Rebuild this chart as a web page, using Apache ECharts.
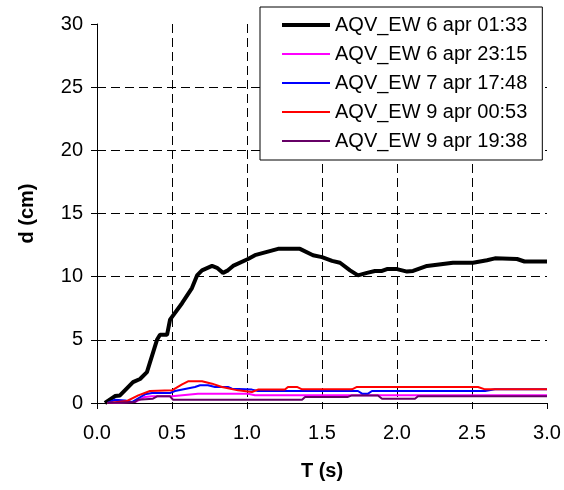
<!DOCTYPE html>
<html>
<head>
<meta charset="utf-8">
<script src="https://cdn.jsdelivr.net/npm/echarts@6/dist/echarts.min.js"></script>
<style>html,body{margin:0;padding:0;background:#fff}#c{width:564px;height:490px}</style>
</head>
<body>
<div id="c"></div>
<script>
const seriesNames = ['AQV_EW 6 apr 01:33','AQV_EW 6 apr 23:15','AQV_EW 7 apr 17:48','AQV_EW 9 apr 00:53','AQV_EW 9 apr 19:38'];
const xTicks = [0,0.5,1,1.5,2,2.5,3];
const yTicks = [0,5,10,15,20,25,30];

const ew0601 = [[0.053,0],[0.12,0.55],[0.153,0.6],[0.24,1.65],[0.287,1.9],[0.333,2.45],[0.4,5.0],[0.42,5.4],[0.467,5.4],[0.487,6.6],[0.567,7.9],[0.633,9.1],[0.667,10.1],[0.7,10.5],[0.767,10.85],[0.8,10.7],[0.84,10.3],[0.873,10.5],[0.907,10.85],[1.007,11.4],[1.053,11.7],[1.207,12.2],[1.353,12.2],[1.44,11.7],[1.5,11.55],[1.567,11.25],[1.62,11.1],[1.687,10.5],[1.74,10.1],[1.8,10.3],[1.853,10.45],[1.9,10.45],[1.933,10.6],[2.0,10.6],[2.067,10.4],[2.107,10.45],[2.2,10.85],[2.373,11.1],[2.507,11.1],[2.6,11.3],[2.653,11.45],[2.8,11.4],[2.85,11.2],[3.0,11.2]];
const ew0623 = [[0.07,0],[0.253,0.08],[0.32,0.48],[0.367,0.53],[0.5,0.53],[0.673,0.74],[1.007,0.74],[1.053,0.62],[3.0,0.62]];
const ew0717 = [[0.07,0],[0.12,0.26],[0.187,0.2],[0.233,0.08],[0.32,0.69],[0.367,0.79],[0.487,0.79],[0.52,0.95],[0.653,1.27],[0.687,1.4],[0.74,1.4],[0.787,1.27],[0.873,1.27],[0.9,1.13],[1.033,1.06],[1.073,0.95],[1.74,0.95],[1.767,0.74],[1.807,0.74],[1.833,0.95],[2.587,0.95],[2.653,1.08],[3.0,1.08]];
const ew0900 = [[0.07,0],[0.2,0.16],[0.275,0.6],[0.353,0.95],[0.5,1.0],[0.567,1.48],[0.607,1.72],[0.7,1.72],[0.767,1.53],[0.833,1.27],[0.94,1.0],[1.033,0.87],[1.073,1.06],[1.253,1.06],[1.273,1.27],[1.333,1.27],[1.367,1.08],[1.7,1.08],[1.733,1.27],[2.54,1.27],[2.587,1.08],[3.0,1.08]];
const ew0919 = [[0.07,0],[0.253,0.08],[0.273,0.26],[0.373,0.34],[0.4,0.53],[0.487,0.53],[0.507,0.26],[1.367,0.26],[1.387,0.48],[1.673,0.48],[1.7,0.6],[1.873,0.6],[1.9,0.34],[2.12,0.34],[2.14,0.53],[3.0,0.53]];

const seriesData = [ew0601, ew0623, ew0717, ew0900, ew0919];
const colors = ['#000000','#FF00FF','#0000FF','#FF0000','#660066'];
const widths = [4,2,2,2,2];

const THICK_ICON = 'path://M0,0H48V4H0Z';
const THIN_ICON = 'path://M0,0L48,0L48,0.01Z M0,1H48V3H0Z M0,4L48,4L48,3.99Z';

const FONT = 'Liberation Sans, Arial, sans-serif';
const chart = echarts.init(document.getElementById('c'), null, {renderer:'canvas'});
chart.setOption({
  animation:false,
  backgroundColor:'#fff',
  grid:{left:97,right:17,top:24,bottom:87,containLabel:false},
  xAxis:{
    type:'value',min:0,max:3,interval:0.5,
    name:'T (s)',nameLocation:'middle',nameGap:58,
    nameTextStyle:{fontFamily:FONT,fontSize:20,fontWeight:'bold',color:'#000'},
    axisLine:{show:true,onZero:false,lineStyle:{color:'#000',width:1}},
    axisTick:{show:true,length:6,inside:false,lineStyle:{color:'#000'}},
    axisLabel:{fontFamily:FONT,fontSize:20,color:'#000',margin:20,formatter:v=>v.toFixed(1)},
    splitLine:{show:true,showMinLine:false,showMaxLine:false,lineStyle:{color:'#000',type:[9,5],width:1}}
  },
  yAxis:{
    type:'value',min:0,max:30,interval:5,
    name:'d (cm)',nameLocation:'middle',nameGap:60,nameRotate:90,
    nameTextStyle:{fontFamily:FONT,fontSize:20,fontWeight:'bold',color:'#000'},
    axisLine:{show:true,lineStyle:{color:'#000',width:1}},
    axisTick:{show:true,length:6,lineStyle:{color:'#000'}},
    axisLabel:{fontFamily:FONT,fontSize:20,color:'#000',margin:14},
    splitLine:{show:true,showMinLine:false,showMaxLine:false,lineStyle:{color:'#000',type:[9,5],width:1}}
  },
  legend:{
    show:true,orient:'vertical',left:260,top:7,
    padding:[8,15,9,22],itemWidth:48,itemHeight:4,itemGap:9,
    backgroundColor:'#fff',borderColor:'#000',borderWidth:1,borderRadius:0,
    textStyle:{fontFamily:FONT,fontSize:20,color:'#000'},
    data:seriesNames.map((n,i)=>({name:n,icon:i===0?THICK_ICON:THIN_ICON,itemStyle:{color:colors[i]}}))
  },
  series:seriesData.map((d,i)=>({
    name:seriesNames[i],type:'line',data:d,symbol:'none',showSymbol:false,smooth:false,
    color:colors[i],
    lineStyle:{color:colors[i],width:widths[i]},
    z:2+i
  }))
});
</script>
</body>
</html>
